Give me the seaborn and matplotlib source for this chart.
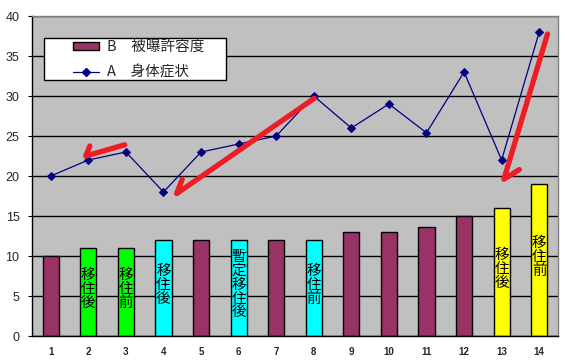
import matplotlib
matplotlib.use("Agg")
import matplotlib.pyplot as plt
from matplotlib.lines import Line2D
from matplotlib.patches import Patch, Rectangle
import numpy as np
import seaborn as sns

# values
categories = [str(i) for i in range(1, 15)]
exposure = [10, 11, 11, 12, 12, 12, 12, 12, 13, 13, 13.6, 15, 16, 19]   # B 被曝許容度
symptoms = [20, 22, 23, 18, 23, 24, 25, 30, 26, 29, 25.4, 33, 22, 38]   # A 身体症状
bar_colors = ["#993366", "#00FF00", "#00FF00", "#00FFFF", "#993366", "#00FFFF", "#993366",
              "#00FFFF", "#993366", "#993366", "#993366", "#993366", "#FFFF00", "#FFFF00"]
bar_notes = ["", "移住後", "移住前", "移住後", "", "暫定移住後", "", "移住前",
             "", "", "", "", "移住後", "移住前"]
legend_labels = ["B　被曝許容度", "A　身体症状"]

# hand drawn red arrows as (category no., value): start, tip, hook end
arrows = [
    [(2.97, 23.9), (1.93, 22.5), (2.04, 23.75)],
    [(8.01, 29.7), (4.35, 17.8), (4.5, 19.6)],
    [(14.22, 37.75), (13.06, 19.6), (13.47, 20.8)],
]

sns.set_style("white")
plt.rcParams["font.family"] = ["Liberation Sans", "Noto Sans CJK JP", "DejaVu Sans"]
jp = ["Noto Sans CJK JP", "DejaVu Sans"]

fig = plt.figure(figsize=(5.65, 3.62), dpi=100)
ax = fig.add_axes([0.0566, 0.0718, 0.931, 0.884])
ax.set_facecolor("#C0C0C0")

pos = np.arange(len(categories))
sns.barplot(x=pos, y=exposure, hue=categories, hue_order=categories, palette=bar_colors,
            native_scale=True, legend=False, width=0.43, saturation=1,
            edgecolor="black", linewidth=1, ax=ax, zorder=2)
sns.lineplot(x=pos, y=symptoms, color="#000080", marker="D", markersize=4.5,
             markeredgecolor="#000080", linewidth=0.9, ax=ax, zorder=3)

for i, note in enumerate(bar_notes):
    if note:
        ax.text(pos[i], exposure[i] / 2 + 0.4, "\n".join(note), ha="center", va="center",
                fontsize=10.5, linespacing=0.98, family=jp, color="black", zorder=4)

for arr in arrows:
    xs = [p[0] - 1 for p in arr]
    ys = [p[1] for p in arr]
    ax.plot(xs, ys, color="#EE1C24", lw=3.8, solid_capstyle="round",
            solid_joinstyle="round", zorder=6)

ax.set_xlim(-0.5, len(categories) - 0.5)
ax.set_ylim(0, 40)
ax.set_yticks(range(0, 41, 5))
ax.set_xticks(pos)
ax.set_xticklabels(categories, fontsize=7, fontweight="bold")
ax.set_xticks(pos[:-1] + 0.5, minor=True)
ax.tick_params(axis="x", which="major", length=0, pad=8)
ax.tick_params(axis="x", which="minor", direction="in", length=4, color="black")
ax.tick_params(axis="y", labelsize=9, length=3, direction="out", color="black", pad=6, left=True)
ax.set_xlabel("")
ax.set_ylabel("")
ax.yaxis.grid(True, color="black", lw=1)
ax.set_axisbelow(True)

for side in ["left", "bottom"]:
    ax.spines[side].set_color("black")
    ax.spines[side].set_linewidth(1)
for side in ["top", "right"]:
    ax.spines[side].set_color("#808080")
    ax.spines[side].set_linewidth(1)

# legend box drawn by hand to get Excel-like padding
ax.add_patch(Rectangle((0.0228, 0.8), 0.346, 0.131, transform=ax.transAxes,
                       facecolor="white", edgecolor="black", lw=1, zorder=7))
handles = [
    Patch(facecolor="#993366", edgecolor="black", label=legend_labels[0]),
    Line2D([], [], color="#000080", marker="D", markersize=4.5, lw=0.9, label=legend_labels[1]),
]
leg = ax.legend(handles=handles, loc="upper left", bbox_to_anchor=(0.078, 0.925),
                borderaxespad=0, borderpad=0, frameon=False, prop={"family": jp, "size": 10.5},
                handlelength=1.8, handleheight=0.5, handletextpad=0.5, labelspacing=0.8)
leg.set_zorder(8)

fig.savefig("out.png", dpi=100)
